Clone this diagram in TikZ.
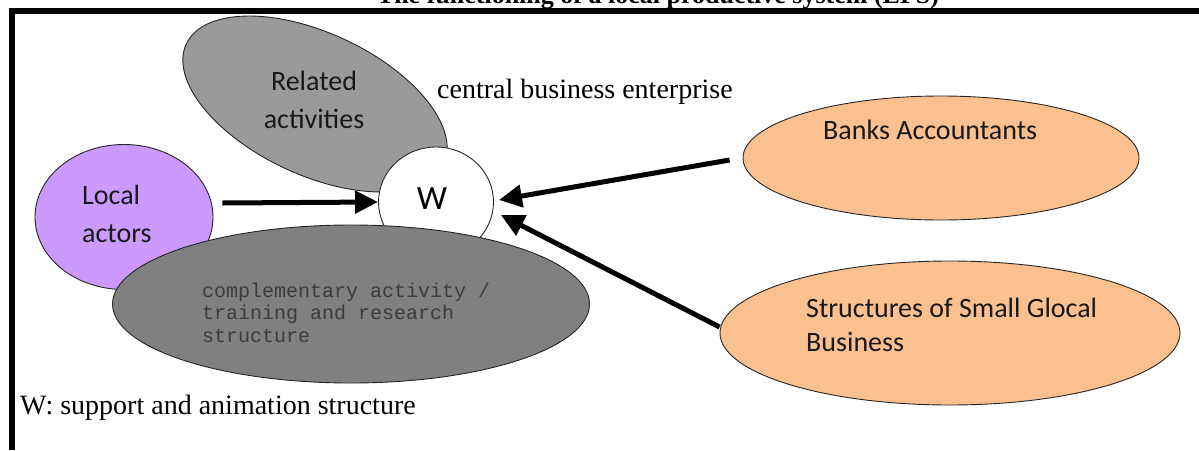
\documentclass[tikz,border=0pt]{standalone}
\usepackage{fontspec}
\setmainfont{Liberation Serif}
\newfontfamily\calib{Carlito}
\newfontfamily\cour{Liberation Mono}
\usetikzlibrary{shapes.geometric,arrows.meta}
\definecolor{relgray}{HTML}{9A9A9A}
\definecolor{compgray}{HTML}{808080}
\definecolor{lilac}{HTML}{CC99FF}
\definecolor{peach}{HTML}{FAC090}
\definecolor{monotext}{HTML}{3C3C3C}
\begin{document}
\begin{tikzpicture}[x=1pt,y=-1pt,
  blob/.style={ellipse, draw=black!85, line width=0.9pt, inner sep=0pt},
  arr/.style={line width=5pt, -{Triangle[length=23pt,width=22pt]}},
  lbl/.style={inner sep=0pt, anchor=base west, align=left},
  cal/.style={font=\calib\fontsize{28}{38}\selectfont, text=black!90},
  serif/.style={font=\fontsize{28}{32}\selectfont}]
\useasboundingbox (0,0) rectangle (1199,450);
\fill[white] (0,0) rectangle (1199,450);
% title (cut by the top edge, as in the source)
\node[inner sep=0pt, anchor=base, font=\bfseries\fontsize{26}{30}\selectfont] (title) at (658,3) {The functioning of a local productive system (LPS)};
% frame
\draw[line width=6pt, line join=miter] (12,450) -- (12,10.5) -- (1199,10.5);
% shapes
\node[blob, fill=relgray, minimum width=284pt, minimum height=142pt, rotate=-25] (rel) at (315,104) {};
\node[blob, fill=white, minimum width=115pt, minimum height=110pt] (w) at (436,202) {};
\node[blob, fill=lilac, minimum width=178pt, minimum height=145pt] (loc) at (124,217) {};
\node[blob, fill=compgray, minimum width=477pt, minimum height=158pt] (comp) at (351,304) {};
\node[blob, fill=peach, minimum width=396pt, minimum height=124pt] (banks) at (941,158) {};
\node[blob, fill=peach, minimum width=460pt, minimum height=144pt] (struct) at (950,333) {};
% texts (multi-line nodes are anchored at the baseline of their last line)
\node[cal, inner sep=0pt, align=center, anchor=base] (reltxt) at (314,128) {Related\\activities};
\node[inner sep=0pt, font=\calib\fontsize{34}{40}\selectfont] (wtxt) at (432,199) {W};
\node[cal, lbl] (loctxt) at (82,242) {Local\\actors};
\node[lbl, font=\cour\fontsize{20}{22.5}\selectfont, text=monotext] (comptxt) at (202,342) {complementary activity /\\training and research\\structure};
\node[cal, lbl] (bankstxt) at (823,139) {Banks Accountants};
\node[lbl, font=\calib\fontsize{28}{34}\selectfont, text=black!90] (structtxt) at (806,351) {Structures of Small Glocal\\Business};
\node[serif, lbl] (cbe) at (437,98) {central business enterprise};
\node[serif, lbl] (legend) at (20,414) {W: support and animation structure};
% connectors
\draw[arr] ([shift={(9,-14)}]loc.east) -- (w.west);
\draw[arr] ([shift={(-13,2)}]banks.west) -- ([shift={(5,-2)}]w.east);
\draw[arr] ([shift={(0,-6)}]struct.west) -- ([shift={(7,13)}]w.east);
\end{tikzpicture}
\end{document}
